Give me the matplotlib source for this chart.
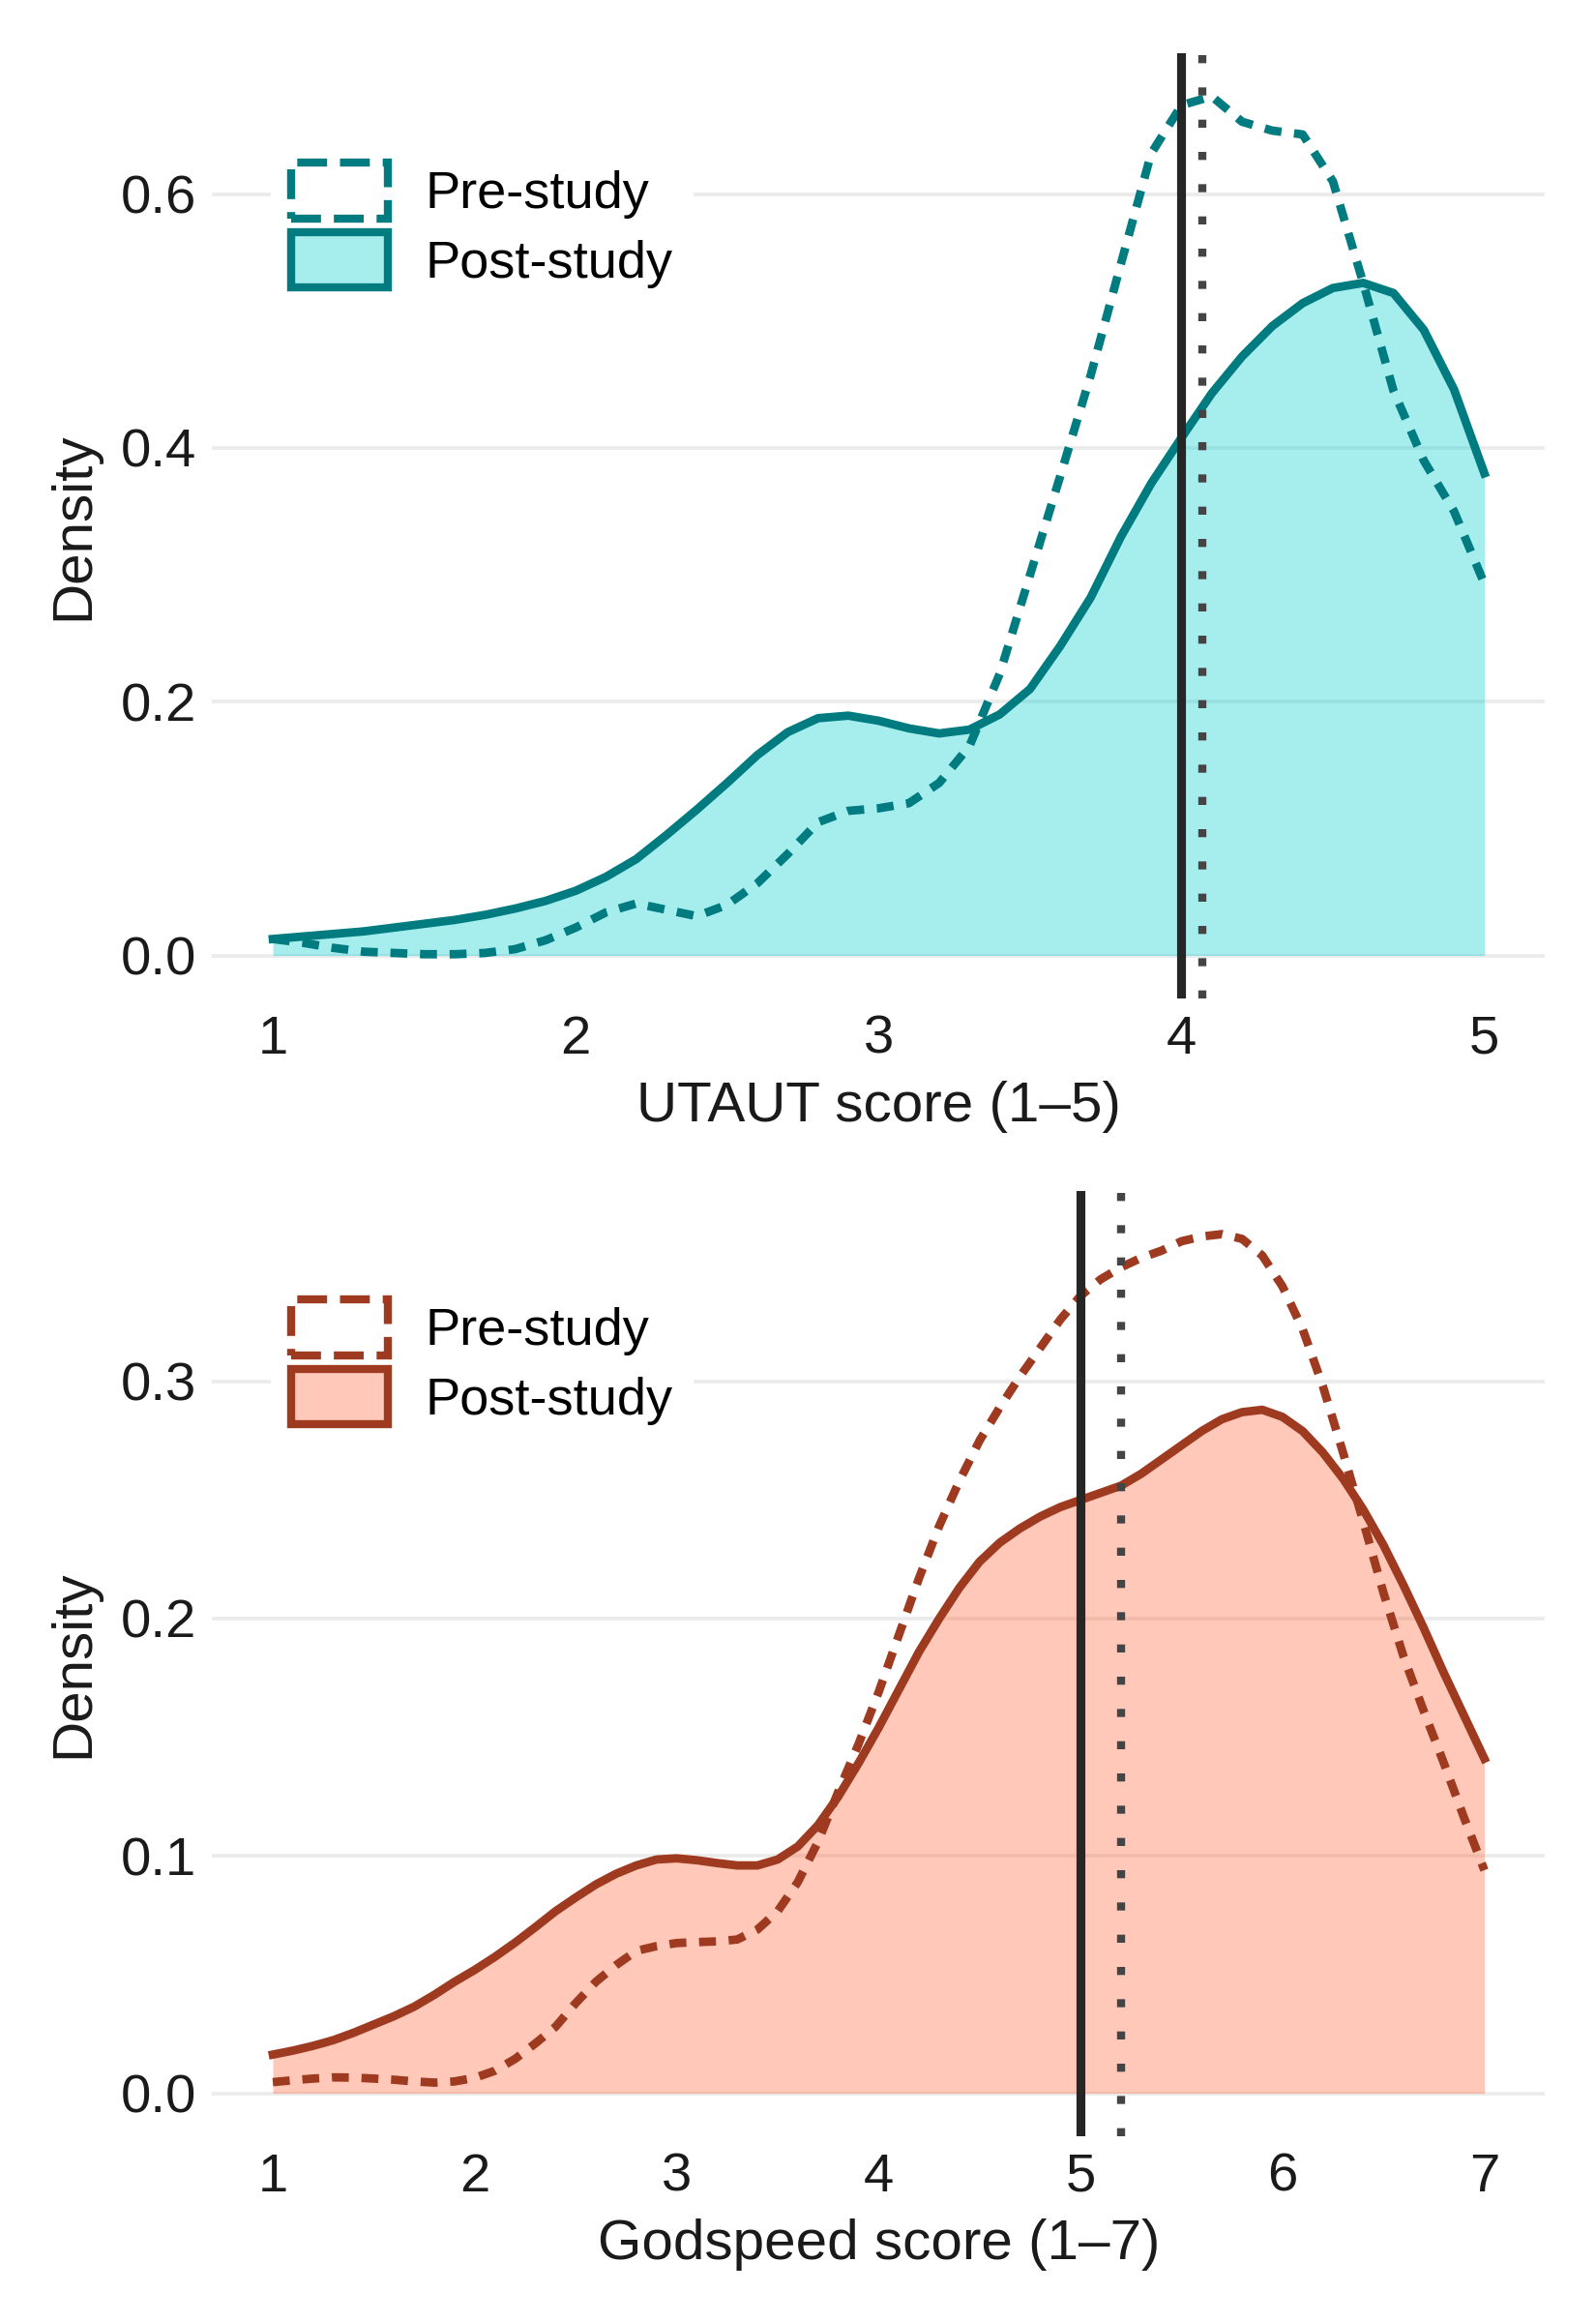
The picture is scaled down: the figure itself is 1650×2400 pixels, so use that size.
import numpy as np
import matplotlib
matplotlib.use("Agg")
import matplotlib.pyplot as plt
from matplotlib.patches import Patch

plt.rcParams['font.family'] = ['Liberation Sans', 'DejaVu Sans']

# UTAUT densities, x = 1.0 .. 5.0 step 0.1
utaut_x = [round(1.0 + 0.1 * i, 1) for i in range(41)]
utaut_pre = [0.013, 0.010, 0.006, 0.003, 0.002, 0.001, 0.001, 0.002, 0.005, 0.012,
             0.022, 0.034, 0.041, 0.036, 0.031, 0.040, 0.057, 0.080, 0.105, 0.114,
             0.116, 0.120, 0.136, 0.165, 0.222, 0.300, 0.378, 0.457, 0.545, 0.632,
             0.670, 0.677, 0.657, 0.650, 0.647, 0.610, 0.530, 0.445, 0.390, 0.350,
             0.293]
utaut_post = [0.013, 0.015, 0.017, 0.019, 0.022, 0.025, 0.028, 0.032, 0.037, 0.043,
              0.051, 0.062, 0.076, 0.095, 0.115, 0.136, 0.158, 0.176, 0.187, 0.189,
              0.185, 0.179, 0.175, 0.178, 0.190, 0.210, 0.244, 0.282, 0.330, 0.372,
              0.408, 0.443, 0.472, 0.496, 0.514, 0.526, 0.530, 0.522, 0.493, 0.446,
              0.380]
utaut_mean_pre = 4.07
utaut_mean_post = 4.0

# Godspeed densities, x = 1.0 .. 7.0 step 0.1
god_x = [round(1.0 + 0.1 * i, 1) for i in range(61)]
god_pre = [0.0047, 0.0055, 0.0062, 0.0067, 0.0066, 0.0062, 0.0057, 0.0050, 0.0045, 0.0050,
           0.0065, 0.0095, 0.0145, 0.021, 0.028, 0.038, 0.047, 0.054, 0.060, 0.062,
           0.0633, 0.0637, 0.064, 0.0648, 0.069, 0.0767, 0.089, 0.106, 0.127, 0.147,
           0.169, 0.193, 0.217, 0.239, 0.258, 0.275, 0.289, 0.302, 0.314, 0.326,
           0.336, 0.343, 0.348, 0.352, 0.355, 0.359, 0.361, 0.362, 0.360, 0.353,
           0.340, 0.322, 0.298, 0.270, 0.241, 0.211, 0.184, 0.161, 0.139, 0.116,
           0.094]
god_post = [0.0163, 0.0180, 0.0200, 0.0224, 0.0255, 0.0290, 0.0325, 0.0365, 0.0415, 0.0470,
            0.0520, 0.0575, 0.0635, 0.0700, 0.0767, 0.0825, 0.0880, 0.0925, 0.0960, 0.0985,
            0.0990, 0.0982, 0.0970, 0.0960, 0.0960, 0.0985, 0.104, 0.113, 0.125, 0.139,
            0.154, 0.170, 0.186, 0.200, 0.213, 0.224, 0.232, 0.238, 0.243, 0.247,
            0.250, 0.253, 0.256, 0.261, 0.267, 0.273, 0.279, 0.284, 0.287, 0.288,
            0.285, 0.279, 0.270, 0.259, 0.246, 0.231, 0.214, 0.196, 0.177, 0.159,
            0.141]
god_mean_pre = 5.2
god_mean_post = 5.0

panels = [
    (utaut_x, utaut_pre, utaut_post, utaut_mean_pre, utaut_mean_post,
     "UTAUT score (1–5)", [1, 2, 3, 4, 5], [0.0, 0.2, 0.4, 0.6],
     "#007B80", "#00CED1", 0.934),
    (god_x, god_pre, god_post, god_mean_pre, god_mean_post,
     "Godspeed score (1–7)", [1, 2, 3, 4, 5, 6, 7], [0.0, 0.1, 0.2, 0.3],
     "#9E3A1F", "#FF6234", 0.935),
]

fig = plt.figure(figsize=(5.5, 8), dpi=300)
ax_top = fig.add_axes([0.133, 0.570, 0.835, 0.407])
ax_bot = fig.add_axes([0.133, 0.080, 0.835, 0.407])

for ax, (x, pre, post, m_pre, m_post, xlabel, xticks, yticks, line_c, fill_c, leg_y) in zip([ax_top, ax_bot], panels):
    ax.grid(axis='y', color='#EBEBEB', lw=0.9)
    ax.set_axisbelow(True)
    ax.plot(x, pre, color=line_c, lw=2.1, dashes=(2.0, 1.5))
    ax.fill_between(x, 0, post, color=fill_c, alpha=0.35, lw=0)
    ax.plot(x, post, color=line_c, lw=2.1)
    ax.axvline(m_post, color='#262626', lw=2.2)
    ax.axvline(m_pre, color='#444444', lw=2.0, dashes=(1, 3))

    ax.set_xticks(xticks)
    ax.set_yticks(yticks)
    ax.set_yticklabels([f"{t:.1f}" for t in yticks])
    ax.tick_params(length=0, labelsize=13.5, pad=4, colors='#1a1a1a')
    ax.set_xlabel(xlabel, fontsize=14, labelpad=4, color='#1a1a1a')
    ax.set_ylabel("Density", fontsize=14, labelpad=5, color='#1a1a1a')
    for s in ax.spines.values():
        s.set_visible(False)

    handles = [Patch(facecolor='none', edgecolor=line_c, linestyle='--', lw=2.0, label='Pre-study'),
               Patch(facecolor=matplotlib.colors.to_rgba(fill_c, 0.35), edgecolor=line_c,
                     lw=2.0, label='Post-study')]
    ax.legend(handles=handles, loc='upper left', bbox_to_anchor=(0.024, leg_y),
              fontsize=13, frameon=True, facecolor='white', edgecolor='none',
              framealpha=1, fancybox=False, handlelength=1.85, handleheight=1.25,
              labelspacing=0.25, handletextpad=0.7, borderpad=0.4)

fig.savefig("out.png", dpi=300)
